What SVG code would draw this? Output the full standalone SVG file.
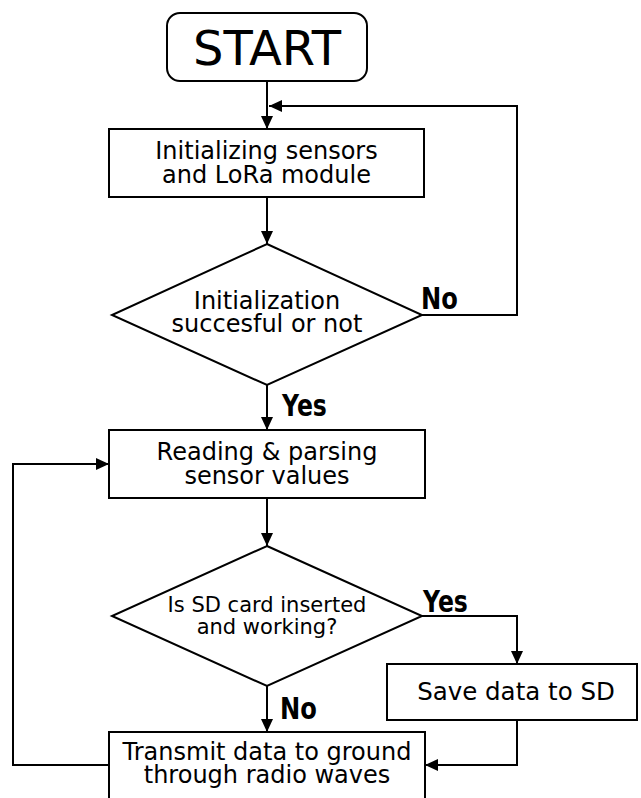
<svg xmlns="http://www.w3.org/2000/svg" width="641" height="798" viewBox="0 0 641 798">
<style>
.box{fill:#fff;stroke:#000;stroke-width:2}
.t{font-family:"DejaVu Sans","Verdana",sans-serif;font-size:24px;text-anchor:middle;fill:#000}
.lbl{font-family:"DejaVu Sans","Verdana",sans-serif;font-weight:bold;font-size:31px;fill:#000}
.c{fill:none;stroke:#000;stroke-width:2}
</style>
<defs>
<marker id="ah" markerUnits="userSpaceOnUse" markerWidth="14" markerHeight="14" refX="13" refY="6.5" orient="auto">
<path d="M0,0.5 L13,6.5 L0,12.5 z" fill="#000"/>
</marker>
</defs>
<rect width="641" height="798" fill="#fff"/>
<g id="connectors">
<path class="c" d="M267,81 V129" marker-end="url(#ah)"/>
<path class="c" d="M422,315 H517 V106 H269" marker-end="url(#ah)"/>
<path class="c" d="M267,197 V244" marker-end="url(#ah)"/>
<path class="c" d="M267,385 V430" marker-end="url(#ah)"/>
<path class="c" d="M267,498 V546" marker-end="url(#ah)"/>
<path class="c" d="M422,616 H517 V664" marker-end="url(#ah)"/>
<path class="c" d="M267,686 V732" marker-end="url(#ah)"/>
<path class="c" d="M517,720 V765 H425" marker-end="url(#ah)"/>
<path class="c" d="M109,765 H13 V464 H109" marker-end="url(#ah)"/>
</g>
<g id="labels">
<text class="lbl" transform="translate(421,309) scale(0.78,1)">No</text>
<text class="lbl" transform="translate(282,416) scale(0.76,1)">Yes</text>
<text class="lbl" transform="translate(423,612) scale(0.76,1)">Yes</text>
<text class="lbl" transform="translate(280,719) scale(0.78,1)">No</text>
</g>
<g id="start">
<rect class="box" x="167" y="13" width="200" height="68" rx="13"/>
<text class="t" x="267" y="65" style="font-size:48px">START</text>
</g>
<g id="init">
<rect class="box" x="109" y="129" width="315" height="68"/>
<text class="t" x="266.5" y="159">Initializing sensors</text>
<text class="t" x="266.5" y="183">and LoRa module</text>
</g>
<g id="check-init">
<polygon class="box" points="267,244 422,315 267,385 112,315"/>
<text class="t" x="267" y="309">Initialization</text>
<text class="t" x="267" y="332">succesful or not</text>
</g>
<g id="read">
<rect class="box" x="109" y="430" width="316" height="68"/>
<text class="t" x="267" y="460">Reading &amp; parsing</text>
<text class="t" x="267" y="484">sensor values</text>
</g>
<g id="check-sd">
<polygon class="box" points="267,546 422,616 267,686 112,616"/>
<text class="t" x="267" y="612" style="font-size:21px">Is SD card inserted</text>
<text class="t" x="267" y="634" style="font-size:21px">and working?</text>
</g>
<g id="save">
<rect class="box" x="387" y="664" width="250" height="56"/>
<text class="t" x="516" y="700" style="font-size:24.5px">Save data to SD</text>
</g>
<g id="transmit">
<rect class="box" x="109" y="732" width="316" height="80"/>
<text class="t" x="267" y="760">Transmit data to ground</text>
<text class="t" x="267" y="783">through radio waves</text>
</g>
</svg>
